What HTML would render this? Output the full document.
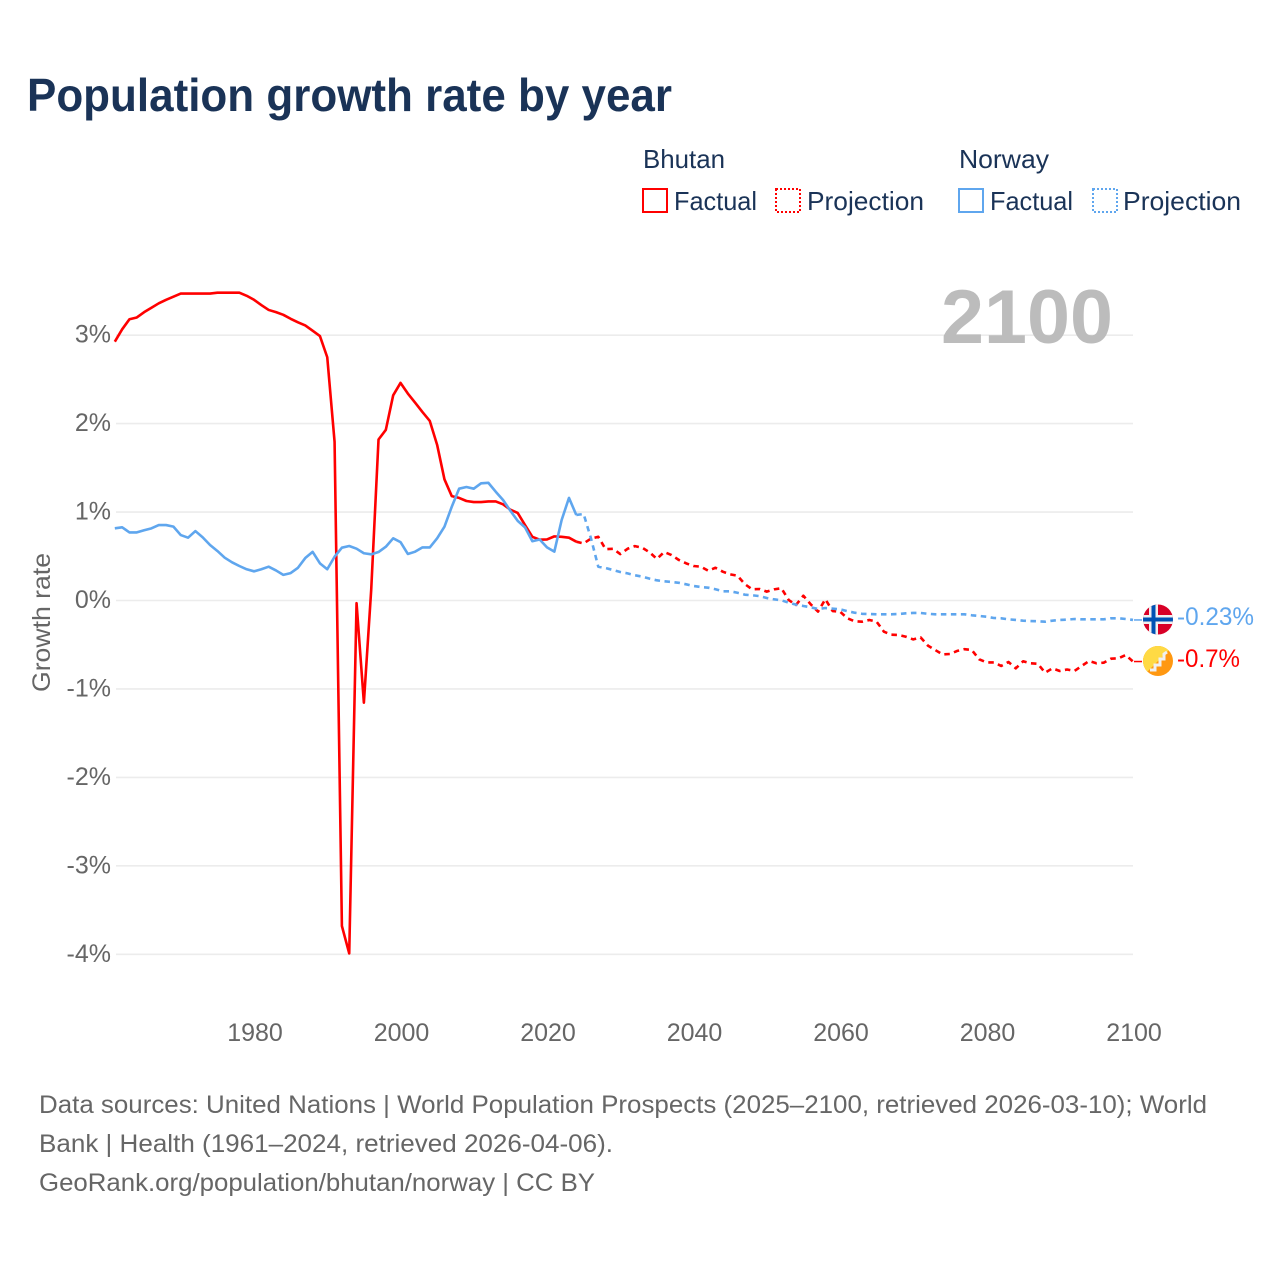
<!DOCTYPE html>
<html lang="en">
<head>
<meta charset="utf-8">
<title>Population growth rate by year</title>
<style>
html,body{margin:0;padding:0;background:#fff;width:1280px;height:1280px;overflow:hidden}
svg{display:block;font-family:"Liberation Sans",sans-serif}
</style>
</head>
<body>
<svg id="chart" width="1280" height="1280" viewBox="0 0 1280 1280" xmlns="http://www.w3.org/2000/svg">
  <defs>
    <clipPath id="flag-clip-no"><circle cx="1158" cy="619.5" r="15"/></clipPath>
    <clipPath id="flag-clip-bt"><circle cx="1158" cy="661" r="15"/></clipPath>
  </defs>
  <rect width="1280" height="1280" fill="#fff"/>
  <text x="27" y="111" font-size="46" font-weight="700" fill="#1a3357" textLength="645" lengthAdjust="spacingAndGlyphs">Population growth rate by year</text>

  <g font-size="26" fill="#1a3357">
    <text x="643" y="168" textLength="82" lengthAdjust="spacingAndGlyphs">Bhutan</text>
    <rect x="643" y="189" width="24" height="23" fill="none" stroke="#ff0000" stroke-width="2"/>
    <text x="674" y="210" textLength="83" lengthAdjust="spacingAndGlyphs">Factual</text>
    <rect x="776" y="189" width="24" height="23" fill="none" stroke="#ff0000" stroke-width="2" stroke-dasharray="2 2"/>
    <text x="807" y="210" textLength="117" lengthAdjust="spacingAndGlyphs">Projection</text>
    <text x="959" y="168" textLength="90" lengthAdjust="spacingAndGlyphs">Norway</text>
    <rect x="959" y="189" width="24" height="23" fill="none" stroke="#5fa6ee" stroke-width="2"/>
    <text x="990" y="210" textLength="83" lengthAdjust="spacingAndGlyphs">Factual</text>
    <rect x="1093" y="189" width="24" height="23" fill="none" stroke="#5fa6ee" stroke-width="2" stroke-dasharray="2 2"/>
    <text x="1123" y="210" textLength="118" lengthAdjust="spacingAndGlyphs">Projection</text>
  </g>

  <g id="grid"></g>
  <text x="941" y="343" font-size="76" font-weight="700" fill="#bcbcbc" textLength="172" lengthAdjust="spacingAndGlyphs">2100</text>
  <g id="axes" font-size="25" fill="#666"></g>
  <text transform="translate(50 692) rotate(-90)" font-size="25" fill="#666" textLength="139" lengthAdjust="spacingAndGlyphs">Growth rate</text>
  <g id="series" fill="none" stroke-linejoin="round"></g>

  <g clip-path="url(#flag-clip-no)">
    <rect x="1143" y="604" width="30" height="31" fill="#d80027"/>
    <rect x="1143" y="615" width="30" height="9" fill="#f0f0f0"/>
    <rect x="1149" y="604" width="9" height="31" fill="#f0f0f0"/>
    <rect x="1143" y="617.5" width="30" height="4" fill="#0052b4"/>
    <rect x="1151.5" y="604" width="4" height="31" fill="#0052b4"/>
  </g>
  <g clip-path="url(#flag-clip-bt)">
    <rect x="1143" y="646" width="30" height="30" fill="#ff9811"/>
    <polygon points="1143,646 1173,646 1143,676" fill="#ffda44"/>
    <path d="M1150 670 L1155 670 L1155 665 L1160 665 L1160 659 L1164 659 L1164 654 L1167 652" fill="none" stroke="#f0f0f0" stroke-width="3"/>
  </g>
  <text x="1177" y="625" font-size="25" fill="#5fa6ee" textLength="77" lengthAdjust="spacingAndGlyphs">-0.23%</text>
  <text x="1177" y="667" font-size="25" fill="#ff0000" textLength="63" lengthAdjust="spacingAndGlyphs">-0.7%</text>

  <g font-size="25" fill="#666">
    <text x="39" y="1113" textLength="1168" lengthAdjust="spacingAndGlyphs">Data sources: United Nations | World Population Prospects (2025–2100, retrieved 2026-03-10); World</text>
    <text x="39" y="1152" textLength="574" lengthAdjust="spacingAndGlyphs">Bank | Health (1961–2024, retrieved 2026-04-06).</text>
    <text x="39" y="1191" textLength="556" lengthAdjust="spacingAndGlyphs">GeoRank.org/population/bhutan/norway | CC BY</text>
  </g>
</svg>
<script>
const xTickYears = [1980, 2000, 2020, 2040, 2060, 2080, 2100];
const yTickValues = [3, 2, 1, 0, -1, -2, -3, -4];

const factualYears = [1961,1962,1963,1964,1965,1966,1967,1968,1969,1970,1971,1972,1973,1974,1975,1976,1977,1978,1979,1980,1981,1982,1983,1984,1985,1986,1987,1988,1989,1990,1991,1992,1993,1994,1995,1996,1997,1998,1999,2000,2001,2002,2003,2004,2005,2006,2007,2008,2009,2010,2011,2012,2013,2014,2015,2016,2017,2018,2019,2020,2021,2022,2023,2024];
const projectionYears = [2024,2025,2026,2027,2028,2029,2030,2031,2032,2033,2034,2035,2036,2037,2038,2039,2040,2041,2042,2043,2044,2045,2046,2047,2048,2049,2050,2051,2052,2053,2054,2055,2056,2057,2058,2059,2060,2061,2062,2063,2064,2065,2066,2067,2068,2069,2070,2071,2072,2073,2074,2075,2076,2077,2078,2079,2080,2081,2082,2083,2084,2085,2086,2087,2088,2089,2090,2091,2092,2093,2094,2095,2096,2097,2098,2099,2100];

const bhutanFactual = [2.926,3.066,3.18,3.2,3.26,3.31,3.36,3.4,3.435,3.47,3.47,3.47,3.47,3.47,3.48,3.48,3.48,3.48,3.445,3.4,3.34,3.285,3.26,3.23,3.185,3.145,3.11,3.05,2.99,2.75,1.795,-3.68,-3.99,-0.03,-1.155,0.12,1.82,1.93,2.32,2.46,2.34,2.236,2.13,2.03,1.76,1.37,1.18,1.16,1.125,1.113,1.113,1.12,1.12,1.087,1.027,0.99,0.853,0.72,0.687,0.69,0.725,0.72,0.71,0.665];
const bhutanProjection = [0.665,0.645,0.7,0.72,0.58,0.585,0.525,0.585,0.615,0.597,0.545,0.47,0.548,0.514,0.458,0.42,0.39,0.382,0.337,0.37,0.326,0.296,0.28,0.186,0.126,0.13,0.1,0.126,0.138,0.005,-0.05,0.054,-0.043,-0.126,0.014,-0.12,-0.126,-0.2,-0.235,-0.24,-0.22,-0.24,-0.353,-0.387,-0.39,-0.41,-0.44,-0.417,-0.51,-0.56,-0.61,-0.605,-0.57,-0.55,-0.56,-0.665,-0.7,-0.7,-0.74,-0.695,-0.767,-0.687,-0.71,-0.715,-0.816,-0.767,-0.797,-0.78,-0.797,-0.74,-0.684,-0.71,-0.703,-0.658,-0.654,-0.616,-0.69];

const norwayFactual = [0.816,0.827,0.77,0.77,0.794,0.816,0.853,0.853,0.835,0.74,0.71,0.785,0.714,0.627,0.56,0.484,0.432,0.39,0.353,0.33,0.353,0.382,0.34,0.29,0.31,0.37,0.48,0.55,0.42,0.353,0.495,0.597,0.616,0.586,0.534,0.522,0.548,0.608,0.703,0.66,0.526,0.552,0.6,0.6,0.703,0.835,1.06,1.264,1.283,1.264,1.325,1.33,1.23,1.136,1.015,0.9,0.827,0.67,0.69,0.6,0.552,0.91,1.16,0.967];
const norwayProjection = [0.967,0.978,0.703,0.382,0.367,0.345,0.322,0.307,0.285,0.27,0.247,0.228,0.217,0.21,0.2,0.183,0.164,0.153,0.145,0.127,0.104,0.104,0.088,0.066,0.059,0.05,0.028,0.013,0.002,-0.025,-0.047,-0.062,-0.077,-0.096,-0.085,-0.092,-0.1,-0.12,-0.138,-0.15,-0.153,-0.156,-0.156,-0.156,-0.153,-0.145,-0.141,-0.141,-0.15,-0.156,-0.156,-0.156,-0.156,-0.156,-0.167,-0.175,-0.183,-0.198,-0.201,-0.213,-0.22,-0.228,-0.232,-0.235,-0.24,-0.228,-0.22,-0.217,-0.209,-0.213,-0.213,-0.213,-0.213,-0.201,-0.201,-0.209,-0.22];

const SVG_NS = 'http://www.w3.org/2000/svg';
const xScale = function (year) { return 254 + (year - 1980) * 7.325; };
const yScale = function (value) { return 600.5 - value * 88.45; };

const gridGroup = document.getElementById('grid');
const axesGroup = document.getElementById('axes');
const seriesGroup = document.getElementById('series');

yTickValues.forEach(function (value) {
  const line = document.createElementNS(SVG_NS, 'line');
  
  
  line.setAttribute('x1', 116);
  line.setAttribute('x2', 1133);
  line.setAttribute('y1', yScale(value));
  line.setAttribute('y2', yScale(value));
  line.setAttribute('stroke', '#ececec');
  line.setAttribute('stroke-width', 1.6);
  gridGroup.appendChild(line);

  const label = document.createElementNS(SVG_NS, 'text');
  
  
  label.setAttribute('x', 111);
  label.setAttribute('y', yScale(value) + 7.5);
  label.setAttribute('text-anchor', 'end');
  label.textContent = value + '%';
  axesGroup.appendChild(label);
});

xTickYears.forEach(function (year) {
  const label = document.createElementNS(SVG_NS, 'text');
  
  
  label.setAttribute('x', xScale(year) + 1);
  label.setAttribute('y', 1041);
  label.setAttribute('text-anchor', 'middle');
  label.textContent = year;
  axesGroup.appendChild(label);
});

function pathFor(years, values) {
  return values.map(function (value, i) {
    return (i ? 'L' : 'M') + xScale(years[i]).toFixed(2) + ' ' + yScale(value).toFixed(2);
  }).join(' ');
}

function addFactual(values, color) {
  const path = document.createElementNS(SVG_NS, 'path');
  
  
  path.setAttribute('d', pathFor(factualYears, values));
  path.setAttribute('stroke', color);
  path.setAttribute('stroke-width', 2.6);
  seriesGroup.appendChild(path);
}

function addProjection(values, color) {
  const path = document.createElementNS(SVG_NS, 'path');
  
  
  path.setAttribute('d', pathFor(projectionYears, values));
  path.setAttribute('stroke', color);
  path.setAttribute('stroke-width', 2.6);
  path.setAttribute('stroke-dasharray', '5.5 4.5');
  seriesGroup.appendChild(path);

  const lastValue = values[values.length - 1];
  const connector = document.createElementNS(SVG_NS, 'line');
  
  
  connector.setAttribute('x1', xScale(2100) + 1);
  connector.setAttribute('x2', xScale(2100) + 9);
  connector.setAttribute('y1', yScale(lastValue));
  connector.setAttribute('y2', yScale(lastValue));
  connector.setAttribute('stroke', color);
  connector.setAttribute('stroke-width', 1.5);
  seriesGroup.appendChild(connector);
}

addProjection(bhutanProjection, '#ff0000');
addProjection(norwayProjection, '#5fa6ee');
addFactual(bhutanFactual, '#ff0000');
addFactual(norwayFactual, '#5fa6ee');
</script>
</body>
</html>
